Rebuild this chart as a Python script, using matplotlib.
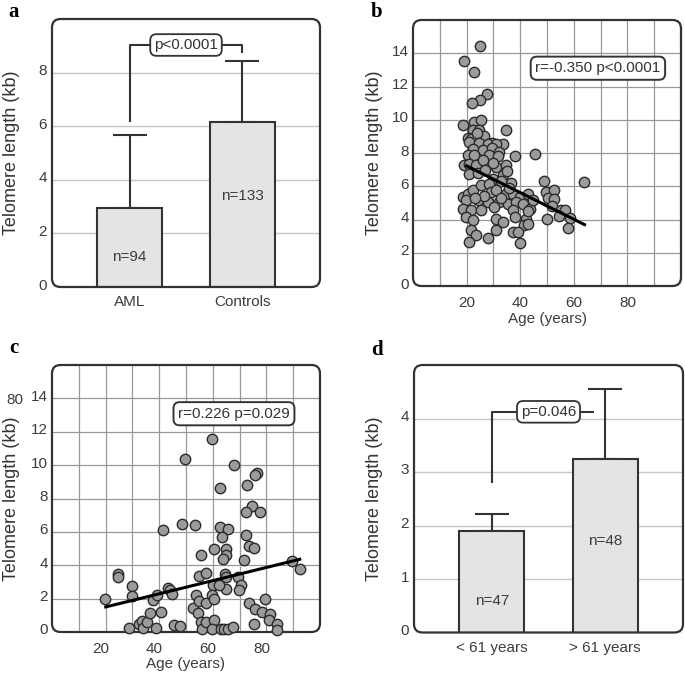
import matplotlib
matplotlib.use('Agg')
import matplotlib.pyplot as plt
from matplotlib.patches import FancyBboxPatch
import matplotlib.transforms as mtrans
import numpy as np

plt.rcParams['font.family'] = ['Liberation Sans', 'DejaVu Sans']

# ---------------- data ----------------
# panel a
a_groups = ['AML', 'Controls']
a_means = [2.95, 6.17]
a_err_up = [2.73, 2.25]
a_counts = ['n=94', 'n=133']
a_p_text = 'p<0.0001'

# panel d
d_groups = ['< 61 years', '> 61 years']
d_means = [1.90, 3.24]
d_err_up = [0.32, 1.31]
d_counts = ['n=47', 'n=48']
d_p_text = 'p=0.046'

# panel b (controls): age vs telomere length
b_age = [25.0, 18.9, 22.6, 27.6, 25.0, 21.9, 34.8, 18.75, 22.9, 25.4, 22.25, 24.75,
         20.5, 21.5, 26.5, 24.0, 29.4, 32.5, 33.75,
         20.75, 24.75, 27.9, 31.0, 22.25, 26.0, 29.5, 32.25, 20.4, 22.9, 28.5, 31.6,
         38.0, 45.5, 19.1, 21.0, 23.5, 26.0, 31.0, 34.75, 21.0, 24.1, 29.75, 33.5,
         35.2, 36.6, 32.9,
         18.5, 20.4, 22.25, 25.4, 28.5, 29.1, 31.0, 34.75, 37.25, 39.75, 42.9,
         19.75, 24.1, 27.9, 32.25, 35.4, 38.5, 41.0, 43.5, 18.5, 21.6, 25.4, 30.4,
         37.25, 19.75, 22.25, 31.0, 33.5, 37.9, 42.25, 41.6,
         21.6, 23.5, 21.0, 27.9, 37.25, 39.1, 39.75, 31.0,
         48.75, 63.75, 49.6, 52.75, 50.25, 52.75, 51.75, 55.25, 56.9, 54.6, 49.9,
         58.4, 57.75, 42.75, 44.6, 43.0, 26.5, 23.0, 33.0, 36.0, 30.0, 27.0]
b_tl = [14.46, 13.52, 12.9, 11.56, 11.2, 11.02, 9.38, 9.66, 9.86, 10.0, 9.36, 9.36,
        8.9, 8.85, 9.0, 9.2, 8.6, 8.5, 8.54,
        8.66, 8.6, 8.56, 8.52, 8.26, 8.16, 8.32, 8.06, 7.86, 7.86, 7.86, 7.8,
        7.84, 7.96, 7.26, 7.36, 7.26, 7.6, 7.16, 7.26, 6.76, 6.8, 6.46, 6.66,
        6.9, 6.2, 6.32,
        5.36, 5.56, 5.76, 6.06, 6.16, 5.66, 5.76, 5.56, 5.56, 5.36, 5.56,
        5.16, 5.16, 5.06, 5.06, 4.96, 5.06, 4.96, 4.66, 4.66, 4.56, 4.56, 4.76,
        4.56, 4.16, 3.96, 4.06, 3.86, 4.16, 4.06, 3.66,
        3.36, 3.06, 2.66, 2.86, 3.26, 3.26, 2.6, 3.36,
        6.34, 6.24, 5.64, 5.8, 5.3, 5.26, 4.84, 4.56, 4.6, 4.24, 4.06,
        4.1, 3.5, 4.5, 5.2, 3.7, 5.4, 5.3, 5.3, 5.9, 7.4, 7.0]
b_fit_age = [19.5, 64.5]
b_fit_tl = [7.27, 3.65]
b_stat_text = 'r=-0.350 p<0.0001'

# panel c (AML): age vs telomere length
c_age = [19.7, 24.7, 24.7, 29.7, 29.7, 28.6, 32.3, 33.5, 33.8, 35.5, 36.5, 38.7,
         37.6, 39.3, 40.5, 41.5, 43.3, 43.9, 44.9, 45.6, 47.8, 48.6, 49.6, 53.4,
         52.6, 54.5, 53.8, 54.7, 57.3, 54.8, 57.5, 55.5, 55.7, 55.8, 57.3, 59.8,
         60.5, 60.0, 59.8, 60.4, 60.5, 59.8, 62.6, 62.5, 65.6, 63.6, 64.8, 64.8,
         63.9, 64.5, 65.0, 64.8, 62.3, 62.9, 64.0, 65.8, 67.6, 67.8, 69.4, 70.4,
         69.6, 71.6, 72.6, 74.6, 72.5, 77.5, 72.5, 73.4, 75.5, 76.6, 75.6, 73.5,
         75.6, 79.5, 78.5, 81.2, 80.8, 75.5, 84.1, 83.8, 89.4, 92.5]
c_tl = [2.0, 3.48, 3.32, 2.74, 2.16, 0.22, 0.45, 0.64, 0.22, 0.62, 1.15, 0.24,
        1.92, 2.22, 1.22, 6.12, 2.66, 2.5, 2.28, 0.42, 0.38, 6.5, 10.35, 6.42,
        1.44, 1.15, 2.2, 1.85, 1.74, 3.36, 3.54, 4.62, 0.62, 0.2, 0.62, 11.54,
        4.95, 2.8, 2.24, 1.98, 0.72, 0.2, 8.62, 6.3, 6.15, 5.68, 4.95, 4.6,
        4.35, 3.5, 3.3, 2.6, 2.8, 0.2, 0.16, 0.2, 0.3, 10.03, 3.28, 2.8,
        2.5, 4.33, 8.78, 7.54, 7.22, 7.22, 5.82, 5.14, 5.02, 9.52, 9.38, 1.75,
        1.35, 1.96, 1.2, 1.07, 0.7, 0.45, 0.46, 0.12, 4.25, 3.75]
c_fit_age = [19.5, 93.0]
c_fit_tl = [1.48, 4.38]
c_stat_text = 'r=0.226 p=0.029'

ylabel = 'Telomere length (kb)'
xlabel_age = 'Age (years)'

# ---------------- style ----------------
EDGE = '#333333'
TXT = '#3c3c3c'
fig = plt.figure(figsize=(6.85, 6.76), dpi=100)
W, H = 685.0, 676.0


def px_axes(l, t, r, b):
    return fig.add_axes([l / W, 1 - b / H, (r - l) / W, (b - t) / H])


def frame(ax, z):
    for s in ax.spines.values():
        s.set_visible(False)
    p = FancyBboxPatch((0, 0), 1, 1, boxstyle='round,pad=0,rounding_size=0.032',
                       transform=ax.transAxes, fill=False, ec=EDGE, lw=1.6,
                       clip_on=False, zorder=z)
    ax.add_patch(p)


def shift_labels(labels, dx_px, dy_px):
    for lbl in labels:
        lbl.set_transform(lbl.get_transform() +
                          mtrans.ScaledTranslation(dx_px / 100, dy_px / 100, fig.dpi_scale_trans))


def bar_panel(ax, groups, means, err, counts, count_y, ylim, yticks, bracket_x, bracket_y, ptext, ptext_xy):
    x = np.arange(len(groups))
    ax.bar(x, means, width=0.575, color='#e4e4e4', edgecolor=EDGE, linewidth=1.5, zorder=2)
    ax.errorbar(x, means, yerr=[np.zeros(len(x)), err], fmt='none', ecolor=EDGE,
                elinewidth=1.5, capsize=12, capthick=1.5, zorder=1.9)
    ax.set_xlim(-0.69, 1.69)
    ax.set_ylim(*ylim)
    ax.set_yticks(yticks)
    ax.set_xticks(x, groups)
    ax.yaxis.grid(True, color='#c6c6c6', lw=1.0)
    ax.set_axisbelow(True)
    ax.tick_params(axis='both', length=0, labelsize=11, labelcolor=TXT)
    ax.tick_params(axis='x', pad=6)
    ax.tick_params(axis='y', pad=3.5)
    for xi, c, cy in zip(x, counts, count_y):
        ax.text(xi, cy, c, ha='center', va='center', fontsize=11, color=TXT, zorder=4)
    ax.plot(bracket_x, bracket_y, color=EDGE, lw=1.5, zorder=3, solid_capstyle='butt')
    ax.text(ptext_xy[0], ptext_xy[1], ptext, ha='center', va='center', fontsize=11, color=EDGE,
            bbox=dict(boxstyle='round,pad=0.25,rounding_size=0.4', fc='white', ec=EDGE, lw=1.3),
            zorder=5)
    frame(ax, 3)
    shift_labels(ax.get_yticklabels(), 0, 3)


def scatter_panel(ax, ages, tls, fit_x, fit_y, stat, stat_xy):
    ax.scatter(ages, tls, s=56, c='#9b9b9b', edgecolors='#2b2b2b', linewidths=1.0,
               zorder=3, clip_on=False)
    ax.plot(fit_x, fit_y, color='black', lw=2.2, zorder=4, solid_capstyle='butt')
    ax.set_xlim(0, 100)
    ax.set_ylim(0, 16)
    ax.set_xticks([20, 40, 60, 80])
    ax.set_xticks([10, 30, 50, 70, 90], minor=True)
    ax.set_yticks(np.arange(0, 15, 2))
    ax.grid(True, which='both', color='#989898', lw=0.9)
    ax.set_axisbelow(True)
    ax.tick_params(axis='both', which='both', length=0, labelsize=11, labelcolor=TXT)
    ax.tick_params(axis='x', pad=7)
    ax.tick_params(axis='y', pad=3)
    ax.set_xlabel(xlabel_age, fontsize=11, color=TXT)
    ax.text(stat_xy[0], stat_xy[1], stat, ha='center', va='center', fontsize=11, color=EDGE,
            bbox=dict(boxstyle='round,pad=0.3,rounding_size=0.4', fc='white', ec=EDGE, lw=1.4),
            zorder=5)
    frame(ax, 2.5)
    shift_labels(ax.get_yticklabels(), 0, 3)


# panel a
axA = px_axes(52, 19, 320, 287)
bar_panel(axA, a_groups, a_means, a_err_up, a_counts, [1.12, 3.4], (0, 10), [0, 2, 4, 6, 8],
          [0, 0, 1, 1], [6.17, 9.03, 9.03, 8.72], a_p_text, (0.5, 9.03))
axA.set_ylabel(ylabel, fontsize=13, color=EDGE)
axA.yaxis.set_label_coords(-0.119, 0.5)

# panel b
axB = px_axes(413, 20, 681, 286)
scatter_panel(axB, b_age, b_tl, b_fit_age, b_fit_tl, b_stat_text, (69.0, 13.1))
axB.set_ylabel(ylabel, fontsize=13, color=EDGE)
axB.yaxis.set_label_coords(-0.112, 0.5)
axB.xaxis.set_label_coords(0.5, -0.098)

# panel c
axC = px_axes(52, 365, 320, 632)
scatter_panel(axC, c_age, c_tl, c_fit_age, c_fit_tl, c_stat_text, (67.9, 13.08))
axC.set_ylabel(ylabel, fontsize=13, color=EDGE)
axC.yaxis.set_label_coords(-0.119, 0.5)
axC.xaxis.set_label_coords(0.5, -0.092)
shift_labels(axC.get_xticklabels(), -5, 0)
fig.text(15 / W, 1 - 400 / H, '80', ha='center', va='center', fontsize=11, color=TXT)

# panel d
axD = px_axes(414, 365, 683, 632.5)
bar_panel(axD, d_groups, d_means, d_err_up, d_counts, [0.58, 1.71], (0, 5), [0, 1, 2, 3, 4],
          [0, 0, 0.905], [2.79, 4.125, 4.125], d_p_text, (0.5, 4.125))
axD.set_ylabel(ylabel, fontsize=13, color=EDGE)
axD.yaxis.set_label_coords(-0.115, 0.5)

# panel letters
for letter, (px, py) in zip('abcd', [(14, 17), (377, 17), (14, 353), (377, 355)]):
    fig.text(px / W, 1 - py / H, letter, ha='center', va='baseline', fontsize=15,
             fontweight='bold', family='Liberation Serif', color='black')

fig.savefig('out.png', dpi=100, facecolor='white')
